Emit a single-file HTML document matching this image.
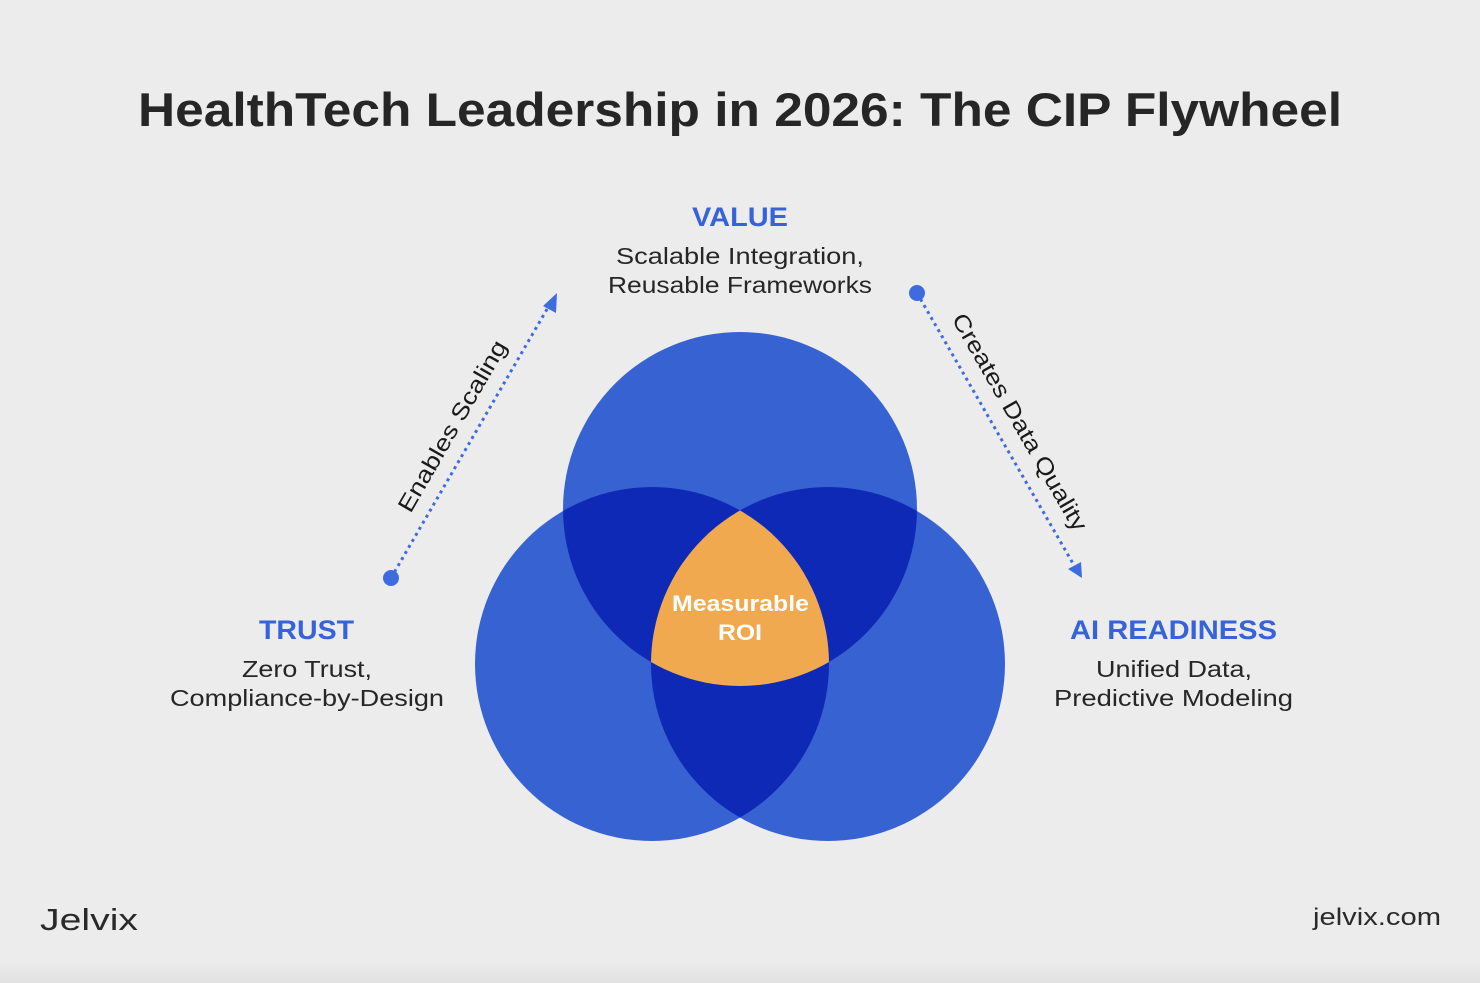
<!DOCTYPE html>
<html><head><meta charset="utf-8"><style>
html,body{margin:0;padding:0;background:#ececec}
svg{display:block}
text{font-family:"Liberation Sans",sans-serif}
</style></head><body>
<svg width="1480" height="983" viewBox="0 0 1480 983">
<defs>
<clipPath id="cT"><circle cx="740" cy="509" r="177"/></clipPath>
<clipPath id="cL"><circle cx="652" cy="664" r="177"/></clipPath>
<clipPath id="cR"><circle cx="828" cy="664" r="177"/></clipPath>
<linearGradient id="bot" x1="0" y1="0" x2="0" y2="1"><stop offset="0" stop-color="#ececec"/><stop offset="1" stop-color="#e2e2e2"/></linearGradient>
</defs>
<rect width="1480" height="983" fill="#ececec"/>
<rect y="960" width="1480" height="23" fill="url(#bot)"/>
<text x="138" y="126" textLength="1204" lengthAdjust="spacingAndGlyphs" font-size="47" font-weight="bold" fill="#262626">HealthTech Leadership in 2026: The CIP Flywheel</text>

<g>
<circle cx="740" cy="509" r="177" fill="#3763d2"/>
<circle cx="652" cy="664" r="177" fill="#3763d2"/>
<circle cx="828" cy="664" r="177" fill="#3763d2"/>
<g clip-path="url(#cT)"><circle cx="652" cy="664" r="177" fill="#0e29b6"/><circle cx="828" cy="664" r="177" fill="#0e29b6"/></g>
<g clip-path="url(#cL)"><circle cx="828" cy="664" r="177" fill="#0e29b6"/></g>
<g clip-path="url(#cT)"><g clip-path="url(#cL)"><circle cx="828" cy="664" r="177" fill="#f0a94f"/></g></g>
<text x="672" y="611" textLength="137" lengthAdjust="spacingAndGlyphs" font-size="22" font-weight="bold" fill="#fff">Measurable</text>
<text x="718" y="640" textLength="44" lengthAdjust="spacingAndGlyphs" font-size="22" font-weight="bold" fill="#fff">ROI</text>
</g>

<g>
<text x="692" y="226" textLength="96" lengthAdjust="spacingAndGlyphs" font-size="27" font-weight="bold" fill="#3763d9">VALUE</text>
<text x="616" y="264" textLength="248" lengthAdjust="spacingAndGlyphs" font-size="23" fill="#262626">Scalable Integration,</text>
<text x="608" y="293" textLength="264" lengthAdjust="spacingAndGlyphs" font-size="23" fill="#262626">Reusable Frameworks</text>
</g>
<g>
<text x="259" y="639" textLength="95" lengthAdjust="spacingAndGlyphs" font-size="27" font-weight="bold" fill="#3763d9">TRUST</text>
<text x="242" y="677" textLength="130" lengthAdjust="spacingAndGlyphs" font-size="23" fill="#262626">Zero Trust,</text>
<text x="170" y="706" textLength="274" lengthAdjust="spacingAndGlyphs" font-size="23" fill="#262626">Compliance-by-Design</text>
</g>
<g>
<text x="1070" y="639" textLength="207" lengthAdjust="spacingAndGlyphs" font-size="27" font-weight="bold" fill="#3763d9">AI READINESS</text>
<text x="1096" y="677" textLength="156" lengthAdjust="spacingAndGlyphs" font-size="23" fill="#262626">Unified Data,</text>
<text x="1054" y="706" textLength="239" lengthAdjust="spacingAndGlyphs" font-size="23" fill="#262626">Predictive Modeling</text>
</g>

<g>
<line x1="391" y1="578" x2="550" y2="304" stroke="#3e6be0" stroke-width="3" stroke-dasharray="3 4"/>
<circle cx="391" cy="578" r="8" fill="#3e6be0"/>
<polygon points="557,293 556,313 543,306" fill="#3e6be0"/>
<text transform="translate(459,430) rotate(-60)" text-anchor="middle" textLength="194" lengthAdjust="spacingAndGlyphs" font-size="23" fill="#1a1a1a">Enables Scaling</text>
</g>
<g>
<line x1="917" y1="293" x2="1075" y2="567" stroke="#3e6be0" stroke-width="3" stroke-dasharray="3 4"/>
<circle cx="917" cy="293" r="8" fill="#3e6be0"/>
<polygon points="1082,578 1068,569 1081,562" fill="#3e6be0"/>
<text transform="translate(1013,426) rotate(60)" text-anchor="middle" textLength="247" lengthAdjust="spacingAndGlyphs" font-size="23" fill="#1a1a1a">Creates Data Quality</text>
</g>

<text x="40" y="930" textLength="98" lengthAdjust="spacingAndGlyphs" font-size="31" fill="#2a2a2a">Jelvix</text>
<text x="1313" y="925" textLength="128" lengthAdjust="spacingAndGlyphs" font-size="24" fill="#2a2a2a">jelvix.com</text>
</svg>
</body></html>
